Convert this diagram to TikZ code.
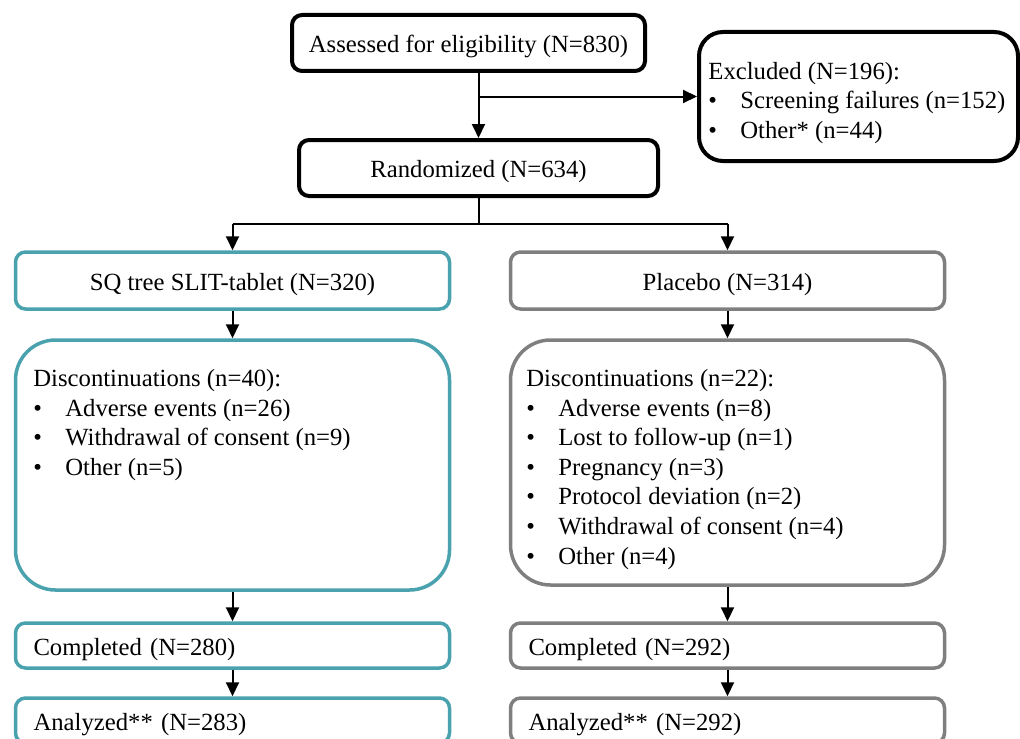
\documentclass[tikz,border=0pt]{standalone}
\usepackage{fontspec}
\setmainfont{Liberation Serif}
\usepackage{tikz}
\usetikzlibrary{arrows.meta,positioning,calc}
\definecolor{sqteal}{HTML}{4AA2AE}
\definecolor{plgray}{HTML}{7F7F7F}
\tikzstyle{link}    =[line width=1pt]
\tikzstyle{edge}    =[link, -{Triangle[length=7pt,width=6.5pt]}]
\tikzstyle{blackbox}=[rectangle, draw, rounded corners=5pt,
                      line width=2pt, inner sep=0pt,
                      text height=12pt, text depth=2.5pt]
\tikzstyle{armbox}  =[rectangle, draw, rounded corners=5pt,
                      line width=1.75pt, inner sep=0pt,
                      minimum width=217pt,
                      text height=12pt, text depth=2.5pt]
\tikzstyle{listbox} =[armbox, rounded corners=20pt]
\tikzstyle{endbox}  =[armbox, minimum height=22.5pt, inner xsep=9pt,
                      text width=199pt, align=left]
\tikzstyle{listtext}=[anchor=north west, align=left, inner sep=0pt]
\newcommand{\bitem}{\makebox[16pt][l]{\textbullet}}

\begin{document}
\begin{tikzpicture}[x=0.5pt, y=-0.5pt,
            font=\fontsize{12.35}{14.8}\selectfont]
    \useasboundingbox (0,0) rectangle (1020,738);
    \clip (0,0) rectangle (1020,738);

    % top part
    \node[blackbox, minimum width=176.5pt, minimum height=28pt]
        (assessed) at (468.5,43) {Assessed for eligibility (N=830)};
    \node[blackbox, minimum width=159.5pt, minimum height=64.5pt,
          rounded corners=12pt] (excluded) at (858.5,96.5) {};
    \node[listtext] (exctxt) at (708,61.5)
        {Excluded (N=196):\\
         \bitem Screening failures (n=152)\\
         \bitem Other* (n=44)};
    \node[blackbox, minimum width=179.5pt, minimum height=28pt]
        (randomized) at (478.5,168) {Randomized (N=634)};

    % treatment arms
    \node[armbox, draw=sqteal, minimum height=28.5pt]
        (sqtree) at (232.5,280.5) {SQ tree SLIT-tablet (N=320)};
    \node[listbox, draw=sqteal, minimum height=125pt]
        (discA) at (232.5,465) {};
    \node[listtext] (discAtxt) at (33,369)
        {Discontinuations (n=40):\\
         \bitem Adverse events (n=26)\\
         \bitem Withdrawal of consent (n=9)\\
         \bitem Other (n=5)};
    \node[endbox, draw=sqteal] (complA) at (232.5,645.5) {Completed (N=280)};
    \node[endbox, draw=sqteal] (analA) at (232.5,720.5) {Analyzed** (N=283)};

    \node[armbox, draw=plgray, minimum height=28.5pt]
        (placebo) at (727.5,280.5) {Placebo (N=314)};
    \node[listbox, draw=plgray, minimum height=122.5pt]
        (discB) at (727.5,462.5) {};
    \node[listtext] (discBtxt) at (526,369)
        {Discontinuations (n=22):\\
         \bitem Adverse events (n=8)\\
         \bitem Lost to follow-up (n=1)\\
         \bitem Pregnancy (n=3)\\
         \bitem Protocol deviation (n=2)\\
         \bitem Withdrawal of consent (n=4)\\
         \bitem Other (n=4)};
    \node[endbox, draw=plgray] (complB) at (727.5,645.5) {Completed (N=292)};
    \node[endbox, draw=plgray] (analB) at (727.5,720.5) {Analyzed** (N=292)};

    % connectors
    \draw[edge] (randomized.north |- assessed.south) -- (randomized.north);
    \draw[edge] (randomized.north |- excluded.west) -- (excluded.west);
    \draw[link] (randomized.south) -- ++(0,26) coordinate (split);
    \draw[link] (split -| sqtree.north) -- (split -| placebo.north);
    \draw[edge] (split -| sqtree.north) -- (sqtree.north);
    \draw[edge] (split -| placebo.north) -- (placebo.north);
    \foreach \a/\b in {sqtree/discA, discA/complA, complA/analA,
                       placebo/discB, discB/complB, complB/analB}
        \draw[edge] (\a) -- (\b);
\end{tikzpicture}
\end{document}
